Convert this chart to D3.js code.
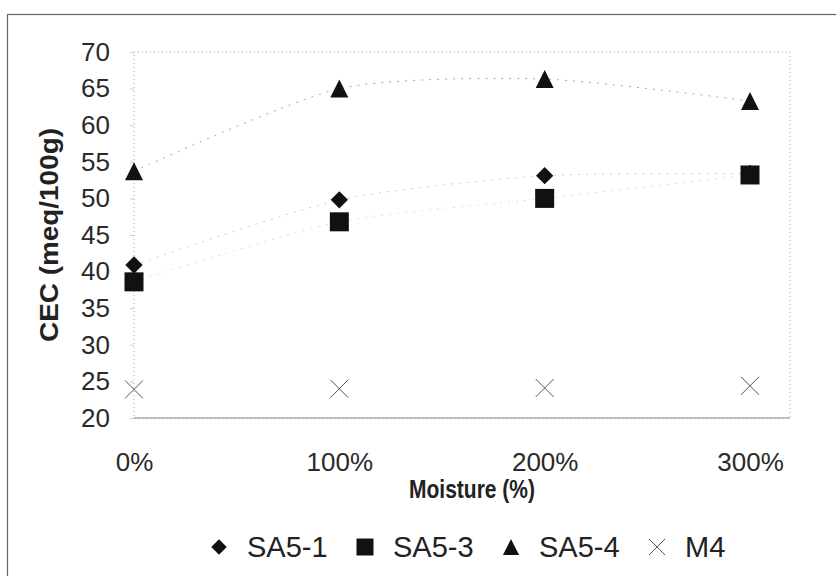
<!DOCTYPE html>
<html>
<head>
<meta charset="utf-8">
<script src="https://cdn.jsdelivr.net/npm/d3@7"></script>
<style>
  html, body { margin: 0; padding: 0; background: #fff; }
  svg { display: block; font-family: Arial, "Liberation Sans", sans-serif; }
</style>
</head>
<body>
<div id="chartContainer"></div>
<script>
// Data
const moisture = [0, 100, 200, 300];
const yTicks = [20, 25, 30, 35, 40, 45, 50, 55, 60, 65, 70];
const sa51 = [40.9, 49.8, 53.1, 53.4];
const sa53 = [38.6, 46.8, 50.0, 53.2];
const sa54 = [53.7, 65.0, 66.3, 63.3];
const m4 = [23.9, 24.0, 24.1, 24.4];
const seriesNames = ["SA5-1", "SA5-3", "SA5-4", "M4"];

// Chart dimensions
const width = 836;
const height = 576;
const plotLeft = 134;
const plotRight = 790;
const plotTop = 52;
const plotBottom = 418;

const x = d3.scaleLinear().domain([0, 300]).range([plotLeft, 750]);
const y = d3.scaleLinear().domain([20, 70]).range([plotBottom, plotTop]);

// custom marker shapes
const diamond = { draw(ctx, size) { const r = Math.sqrt(size) / 2;
  ctx.moveTo(0, -r); ctx.lineTo(r, 0); ctx.lineTo(0, r); ctx.lineTo(-r, 0); ctx.closePath(); } };
const square = { draw(ctx, size) { const r = Math.sqrt(size) / 2; ctx.rect(-r, -r, 2 * r, 2 * r); } };
const triangle = { draw(ctx, size) { const r = Math.sqrt(size) / 2;
  ctx.moveTo(0, -r); ctx.lineTo(r, r); ctx.lineTo(-r, r); ctx.closePath(); } };
const cross = { draw(ctx, size) { const r = Math.sqrt(size) / 2;
  ctx.moveTo(-r, -r); ctx.lineTo(r, r); ctx.moveTo(r, -r); ctx.lineTo(-r, r); } };

const series = [
  { name: seriesNames[0], values: sa51, shape: diamond, size: 300, line: "#ccc" },
  { name: seriesNames[1], values: sa53, shape: square, size: 361, line: "#ddd" },
  { name: seriesNames[2], values: sa54, shape: triangle, size: 324, line: "#aaa" },
  { name: seriesNames[3], values: m4, shape: cross, size: 324, line: null }
];

const svg = d3.create("svg")
    .attr("width", width)
    .attr("height", height)
    .attr("viewBox", [0, 0, width, height]);

// outer chart frame (cut off at right/bottom like the scan)
svg.append("rect")
    .attr("x", 7.5).attr("y", 14.5)
    .attr("width", 840).attr("height", 580)
    .attr("fill", "none")
    .attr("stroke", "#666")
    .attr("stroke-width", 1.2);

// faint dotted plot area border
svg.append("rect")
    .attr("x", plotLeft).attr("y", plotTop)
    .attr("width", plotRight - plotLeft).attr("height", plotBottom - plotTop)
    .attr("fill", "none")
    .attr("stroke", "#aaa")
    .attr("stroke-dasharray", "1,3");

// y axis
const yAxis = svg.append("g")
    .attr("transform", `translate(${plotLeft},0)`)
    .call(d3.axisLeft(y).tickValues(yTicks).tickSize(4).tickPadding(20));
yAxis.select(".domain").remove();
yAxis.selectAll(".tick line").attr("stroke", "#ccc");
yAxis.selectAll("text")
    .attr("font-size", 26)
    .attr("fill", "#2a2a2a")
    .attr("font-family", "Arial, 'Liberation Sans', sans-serif");

// x axis
const xAxis = svg.append("g")
    .attr("transform", `translate(0,${plotBottom})`)
    .call(d3.axisBottom(x).tickValues(moisture).tickFormat(d => d + "%").tickSize(0).tickPadding(35));
xAxis.select(".domain").remove();
xAxis.selectAll("text")
    .attr("font-size", 26)
    .attr("fill", "#2a2a2a")
    .attr("font-family", "Arial, 'Liberation Sans', sans-serif");

// baseline
svg.append("line")
    .attr("x1", plotLeft).attr("x2", plotRight)
    .attr("y1", plotBottom).attr("y2", plotBottom)
    .attr("stroke", "#888")
    .attr("stroke-width", 1);

// faint smoothed connecting lines
const line = d3.line()
    .x((d, i) => x(moisture[i]))
    .y(d => y(d))
    .curve(d3.curveCardinal.tension(0.3));

series.filter(s => s.line).forEach(s => {
  svg.append("path")
      .attr("d", line(s.values))
      .attr("fill", "none")
      .attr("stroke", s.line)
      .attr("stroke-width", 1)
      .attr("stroke-dasharray", "2,6");
});

// markers
series.forEach(s => {
  svg.append("g")
    .selectAll("path")
    .data(s.values)
    .join("path")
      .attr("transform", (d, i) => `translate(${x(moisture[i])},${y(d)})`)
      .attr("d", d3.symbol(s.shape, s.size))
      .attr("fill", s.shape === cross ? "none" : "#111")
      .attr("stroke", s.shape === cross ? "#555" : "none")
      .attr("stroke-width", 1);
});

// axis titles
svg.append("text")
    .attr("transform", `translate(58,235) rotate(-90)`)
    .attr("text-anchor", "middle")
    .attr("font-size", 25)
    .attr("font-weight", "bold")
    .attr("fill", "#222")
    .attr("textLength", 214)
    .attr("lengthAdjust", "spacingAndGlyphs")
    .text("CEC (meq/100g)");

svg.append("text")
    .attr("x", 472).attr("y", 498)
    .attr("text-anchor", "middle")
    .attr("font-size", 25)
    .attr("font-weight", "bold")
    .attr("fill", "#222")
    .attr("textLength", 126)
    .attr("lengthAdjust", "spacingAndGlyphs")
    .text("Moisture (%)");

// legend
const legendX = 247, legendStep = 146, legendY = 557;
const legend = svg.append("g");
series.forEach((s, i) => {
  const lx = legendX + i * legendStep;
  legend.append("path")
      .attr("transform", `translate(${lx - 28},${legendY - 10})`)
      .attr("d", d3.symbol(s.shape, s.size * 0.8))
      .attr("fill", s.shape === cross ? "none" : "#111")
      .attr("stroke", s.shape === cross ? "#555" : "none");
  legend.append("text")
      .attr("x", lx).attr("y", legendY)
      .attr("font-size", 29)
      .attr("fill", "#222")
      .text(s.name);
});

document.getElementById("chartContainer").appendChild(svg.node());
</script>
</body>
</html>
